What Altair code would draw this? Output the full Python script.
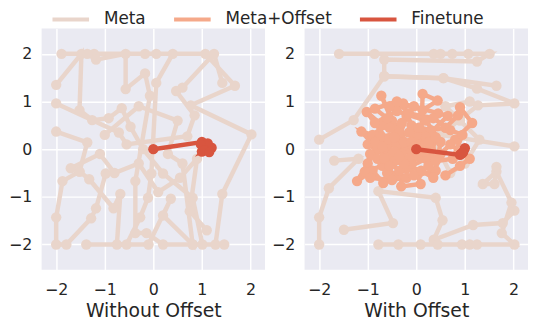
import altair as alt
import pandas as pd

SERIES = ["Meta", "Meta+Offset", "Finetune"]
COLORS = ["#E9D5CB", "#F5A98A", "#D8553F"]
TICKS = [-2, -1, 0, 1, 2]

# ---- Left panel: Without Offset ----
LEFT_META = [
    [(-1.89, 2.0), (-1.22, 2.0), (-0.17, 2.0), (0.06, 2.0), (1.07, 2.0), (1.68, 1.33), (0.77, 0.92), (2.02, 0.31), (1.42, -0.94), (1.28, -2.0)],
    [(-2.0, 1.35), (-1.48, 2.0), (-1.52, 0.82), (-1.26, 0.61), (-0.92, 0.65), (-0.65, 0.86), (-0.47, 0.47), (-0.21, 0.0), (0.20, -0.51), (0.81, -1.02), (1.01, -2.0)],
    [(-2.0, 0.96), (-0.71, 0.35), (-0.55, 0.10), (0.70, 0.27), (0.85, 0.71), (0.47, 1.22), (0.60, 1.29), (1.25, 2.0), (1.42, 1.39)],
    [(-2.0, 0.37), (-1.36, 0.14), (-1.52, -0.47), (-1.87, -0.67), (-2.0, -1.43), (-2.0, -2.0), (-1.79, -2.0), (-1.28, -1.45), (-1.18, -1.24), (-0.98, -0.51)],
    [(-1.36, 2.0), (-1.18, 1.88), (-0.57, 2.0), (-0.57, 1.26), (-0.17, 1.59), (-0.07, 1.12), (-0.37, -0.67), (-0.37, -1.76), (-0.14, -1.76), (0.20, -2.0), (0.81, -2.0), (1.46, -2.0)],
    [(0.40, 2.0), (0.06, 1.39), (-0.04, -0.51), (-0.11, -1.02), (-0.27, -1.43), (-0.55, -2.0), (-0.75, -2.0), (-0.68, -0.94), (-0.82, -1.24), (-1.32, -0.63), (-1.52, -0.47)],
    [(-1.38, -2.0), (-0.10, -2.0), (0.36, -1.04), (0.20, -1.39), (0.81, -2.0), (0.60, -0.30), (0.30, -0.10), (0.50, 0.60), (-0.30, 0.90), (-1.00, 0.30)],
    [(-1.70, -0.40), (-1.10, -0.10), (-0.80, -0.50), (-0.30, -0.30), (0.10, -0.90), (0.55, -0.60), (0.90, -0.20), (0.75, -1.30), (1.10, -1.70)],
]
LEFT_FINE = [
    [(0.0, 0.0), (1.00, 0.15), (1.08, 0.05), (1.00, -0.05), (1.20, 0.03), (1.12, 0.12), (0.98, 0.10), (1.05, -0.02), (1.15, -0.06)],
]

# ---- Right panel: With Offset ----
RIGHT_META = [
    [(-1.59, 2.0), (-0.86, 2.0), (0.36, 2.0), (0.50, 2.0), (0.74, 2.0), (1.07, 2.0), (1.51, 2.0), (1.25, 1.84), (-0.66, 1.88), (-0.66, 1.53), (0.56, 1.49), (1.65, 1.33)],
    [(-2.0, 0.20), (-1.29, 0.61), (-0.66, 1.53), (0.56, 1.49), (1.25, 1.27), (2.02, 0.96), (1.27, 0.92), (0.50, 0.30), (2.02, 0.06)],
    [(-1.69, -0.24), (-1.19, -0.20), (-1.80, -0.82), (-2.0, -1.43), (-2.0, -2.0)],
    [(-1.49, -1.69), (-0.48, -1.55), (-0.78, -0.88), (0.40, -1.02), (0.54, -1.49), (0.36, -1.90), (1.17, -1.59), (1.78, -1.55), (2.02, -1.29)],
    [(-0.78, -2.0), (-0.37, -2.0), (0.09, -2.0), (0.44, -2.0), (0.94, -2.0), (1.10, -2.0), (1.25, -2.0), (2.02, -2.0), (1.76, -1.76), (1.96, -1.12), (1.65, -0.47), (1.37, -0.73), (1.61, -0.73), (1.65, -0.37)],
    [(0.30, 0.30), (0.70, -0.50), (1.00, -0.30), (1.30, 0.20), (0.90, 0.60), (0.60, 0.90), (1.10, 1.00)],
]
RIGHT_OFFSET = [
    [(-0.20, 0.00), (-0.72, 1.12), (-0.50, 0.60), (-0.90, 0.30), (-1.13, 0.37), (-0.80, 0.00), (-1.00, -0.30), (-1.22, -0.67), (-0.90, -0.45), (-0.68, -0.71), (-0.50, -0.30), (-0.30, 0.20)],
    [(0.10, 0.10), (0.13, 1.16), (0.44, 1.02), (0.13, 0.82), (-0.27, 0.96), (-0.10, 0.50), (0.30, 0.40), (0.60, 0.45), (0.86, 0.71), (0.90, 0.88), (1.15, 0.55), (0.80, 0.20)],
    [(-0.30, -0.10), (-0.31, -0.78), (0.09, -0.73), (0.03, -0.53), (-0.20, -0.40), (0.20, -0.20), (0.50, -0.10), (0.70, 0.10), (1.10, -0.20), (0.90, -0.35), (0.60, -0.55)],
    [(-0.60, 0.20), (-1.02, 0.78), (-0.70, 0.50), (-0.40, 0.40), (-0.60, 0.00), (-0.95, -0.10), (-1.06, -0.47), (-0.70, -0.35), (-0.40, -0.55), (-0.10, -0.30), (0.00, 0.20), (0.30, 0.00)],
    [(-0.40, 0.10), (-0.20, 0.70), (0.00, 0.30), (-0.50, -0.10), (-0.80, -0.20), (-0.60, -0.50), (-0.20, -0.60), (0.40, -0.45), (0.50, 0.15), (0.20, 0.60), (-0.40, 0.80), (-0.85, 0.55)],
    [(-0.10, -0.05), (-0.35, 0.35), (-0.75, 0.25), (-1.00, 0.10), (-0.45, -0.25), (0.10, -0.45), (0.35, -0.60), (0.20, 0.25), (0.65, 0.70), (0.45, 0.75), (-0.05, 0.90), (-0.55, 0.90)],
    [(-0.25, 0.15), (-0.55, 0.45), (-0.30, 0.55), (-0.65, -0.20), (-0.35, -0.45), (0.05, -0.15), (0.25, 0.15), (-0.15, 0.35), (-0.85, 0.15), (-0.55, -0.35), (-0.15, -0.20)],
    [(-0.45, -0.05), (-0.10, 0.15), (0.15, -0.05), (-0.25, -0.30), (-0.70, 0.05), (-0.45, 0.25), (0.05, 0.45), (0.40, 0.25), (0.25, -0.35), (-0.05, -0.55), (-0.50, -0.65), (-0.95, -0.60)],
    [(-0.60, 0.65), (-0.85, 0.85), (-0.40, 1.00), (-0.15, 0.75), (0.35, 0.65), (0.70, 0.40), (0.95, 0.30), (0.75, -0.20), (0.40, -0.25), (-0.05, 0.05), (-0.35, -0.15)],
]
RIGHT_FINE = [
    [(0.0, 0.0), (0.90, -0.12), (0.97, -0.05), (1.00, 0.02), (0.92, -0.10), (0.95, -0.08)],
]


def build(groups, series, prefix):
    rows = []
    for t, traj in enumerate(groups):
        for i, (x, y) in enumerate(traj):
            rows.append({"series": series, "traj": f"{prefix}{t}", "order": i, "x": x, "y": y})
    return rows


FONT = "DejaVu Sans"
xscale = alt.Scale(domain=[-2.3, 2.3], nice=False, zero=False)
yscale = alt.Scale(domain=[-2.53, 2.53], nice=False, zero=False)
cscale = alt.Scale(domain=SERIES, range=COLORS)


def panel(rows, title, show_legend):
    df = pd.DataFrame(rows)
    base = alt.Chart(df)
    layers = []
    for s in SERIES:
        sub = base.transform_filter(alt.datum.series == s)
        enc = dict(
            x=alt.X("x:Q", scale=xscale, axis=alt.Axis(values=TICKS, title=title, format="d")),
            y=alt.Y("y:Q", scale=yscale, axis=alt.Axis(values=TICKS, title=None, format="d")),
            color=alt.Color(
                "series:N", scale=cscale,
                legend=alt.Legend(title=None, orient="none", direction="horizontal",
                                  legendX=20, legendY=-19) if show_legend else None,
            ),
        )
        layers.append(sub.mark_line(strokeWidth=4.5).encode(detail="traj:N", order="order:Q", **enc))
        layers.append(sub.mark_circle(size=110, opacity=1).encode(**enc))
    return alt.layer(*layers).properties(width=226, height=244)


left = panel(build(LEFT_META, "Meta", "lm") + build(LEFT_FINE, "Finetune", "lf"), "Without Offset", True)
right = panel(build(RIGHT_META, "Meta", "rm") + build(RIGHT_OFFSET, "Meta+Offset", "ro") + build(RIGHT_FINE, "Finetune", "rf"),
              "With Offset", False)

chart = alt.hconcat(left, right, spacing=6).properties(
    padding={"left": 0, "top": 0, "right": 0, "bottom": 0}
).configure_view(fill="#EAEAF2", stroke=None).configure_axis(
    grid=True, gridColor="white", gridWidth=1.5, domain=False, ticks=False,
    labelFont=FONT, labelFontSize=16, labelColor="#262626",
    titleFont=FONT, titleFontSize=19, titleFontWeight="normal", titleColor="#262626",
).configure_axisX(labelPadding=12, titlePadding=4).configure_axisY(labelPadding=10).configure_legend(
    labelFont=FONT, labelFontSize=17, labelColor="#262626", padding=0,
    symbolType="M-2.5,0H2.5", symbolSize=219, symbolStrokeWidth=4, labelOffset=24, columnPadding=20,
)

chart.save("out.html", embed_options={"renderer": "svg", "actions": False})
